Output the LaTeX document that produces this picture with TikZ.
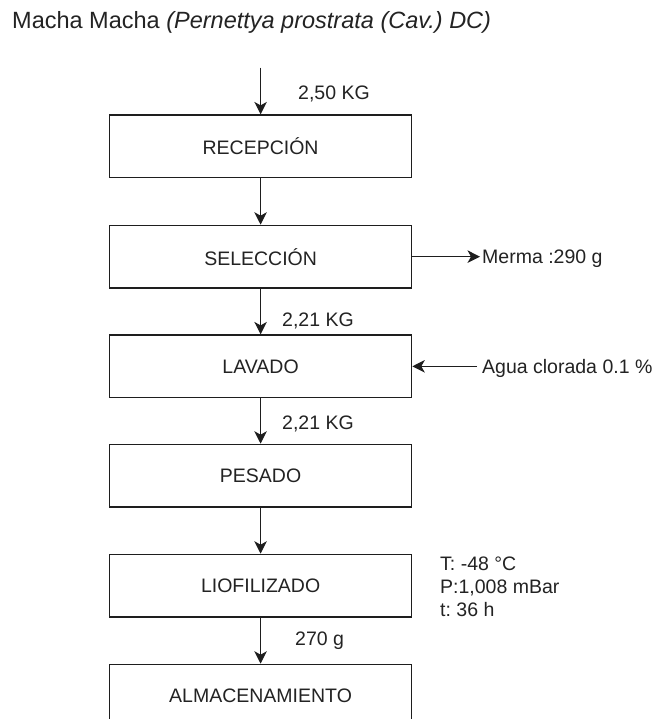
\documentclass[tikz,border=0pt]{standalone}
\usepackage{fontspec}
\setmainfont{Liberation Sans}
\usetikzlibrary{arrows.meta}
\frenchspacing
\definecolor{ink}{RGB}{30,30,30}
\definecolor{txt}{RGB}{35,35,35}
\tikzset{
  stepbox/.style={draw=ink, line width=1.2pt, minimum width=302.2pt, minimum height=62.7pt, inner sep=0pt, text=txt, font=\fontsize{19.5}{22}\selectfont},
  lbl/.style={anchor=base west, inner ysep=0pt, inner xsep=0pt, text=txt, font=\fontsize{19.5}{22}\selectfont},
  arr/.style={draw=ink, line width=1.2pt, -{Stealth[length=12.5pt,width=12.5pt,inset=3.5pt]}},
}
\begin{document}
\frenchspacing
\begin{tikzpicture}[x=1pt,y=-1pt]
\useasboundingbox (0,0) rectangle (657,719);
\fill[white] (0,0) rectangle (657,719);
\begin{scope}
\clip (0,0) rectangle (657,719);
\node[anchor=base west, inner sep=0pt, text=txt, font=\fontsize{23.5}{26}\selectfont] (title) at (12,29) {Macha Macha \textit{(Pernettya prostrata (Cav.) DC)}};

\node[stepbox] (rec) at (260.6,146.35) {RECEPCIÓN};
\node[stepbox] (sel) at (260.6,256.65) {SELECCIÓN};
\node[stepbox] (lav) at (260.6,366.35) {LAVADO};
\node[stepbox] (pes) at (260.6,475.65) {PESADO};
\node[stepbox] (lio) at (260.6,585.65) {LIOFILIZADO};
\node[stepbox] (alm) at (260.6,695.65) {ALMACENAMIENTO};

\coordinate (in) at (260.6,67.7);
\draw[arr] (in) -- (rec);
\draw[arr] (rec) -- (sel);
\draw[arr] (sel) -- (lav);
\draw[arr] (lav) -- (pes);
\draw[arr] (pes) -- (lio);
\draw[arr] (lio) -- (alm);

\node[lbl] (m250) at (298,100) {2,50 KG};
\node[lbl] (m221a) at (282,326) {2,21 KG};
\node[lbl] (m221b) at (282,429) {2,21 KG};
\node[lbl] (m270) at (295,645) {270 g};

\node[lbl, inner xsep=2pt] (merma) at (480,263.65) {Merma :290 g};
\draw[arr] (sel.east) -- (sel.east -| merma.west);

\node[lbl, inner xsep=5pt] (agua) at (477,373.35) {Agua clorada 0.1 \%};
\draw[arr] (lav.east -| agua.west) -- (lav.east);

\node[anchor=west, align=left, inner sep=0pt, text=txt, font=\fontsize{19.5}{23}\selectfont] (cond) at (440,587) {T: -48 °C\\P:1,008 mBar\\t: 36 h};
\end{scope}
\end{tikzpicture}
\end{document}
